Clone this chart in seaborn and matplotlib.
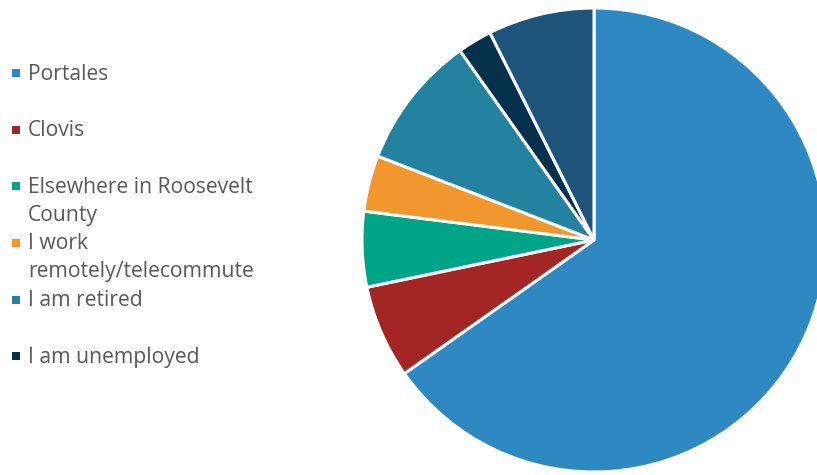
import matplotlib
matplotlib.use("Agg")
import matplotlib.pyplot as plt
import seaborn as sns
from matplotlib.patches import Rectangle

# ---- data ----
categories = ["Portales", "Clovis", "Elsewhere in Roosevelt County",
              "I work remotely/telecommute", "I am retired", "I am unemployed", "Other"]
legend_lines = [["Portales"], ["Clovis"], ["Elsewhere in Roosevelt", "County"],
                ["I work", "remotely/telecommute"], ["I am retired"], ["I am unemployed"]]
values = [65.2, 6.5, 5.25, 3.9, 9.3, 2.4, 7.4]
colors = ["#2E89C3", "#A32524", "#00A487", "#F2972D", "#2482A1", "#03304A", "#1D5479"]

sns.set_theme(style="white")
plt.rcParams["font.family"] = ["Open Sans", "DejaVu Sans"]

W, H = 817, 475
fig = plt.figure(figsize=(W / 100, H / 100), dpi=100)

cx, cy, r = 594, 240, 232
ax = fig.add_axes([(cx - r) / W, (H - cy - r) / H, 2 * r / W, 2 * r / H])
ax.pie(values, colors=colors, startangle=90, counterclock=False, radius=1,
       wedgeprops=dict(edgecolor="white", linewidth=2.2))
ax.set_xlim(-1, 1)
ax.set_ylim(-1, 1)
ax.set_aspect("equal")
ax.axis("off")

# ---- legend (manual, Excel-style) ----
first_line_y = [74, 131, 187, 244, 301, 357]
line_step = 28
text_color = "#595959"
for lines, col, y0 in zip(legend_lines, colors, first_line_y):
    fig.patches.append(Rectangle((12 / W, 1 - (y0 + 3) / H), 8 / W, 8 / H,
                                 transform=fig.transFigure, facecolor=col,
                                 edgecolor="none"))
    for k, ln in enumerate(lines):
        fig.text(28 / W, 1 - (y0 + k * line_step) / H, ln, fontsize=15.2,
                 color=text_color, va="center", ha="left")

fig.savefig("out.png", dpi=100)
